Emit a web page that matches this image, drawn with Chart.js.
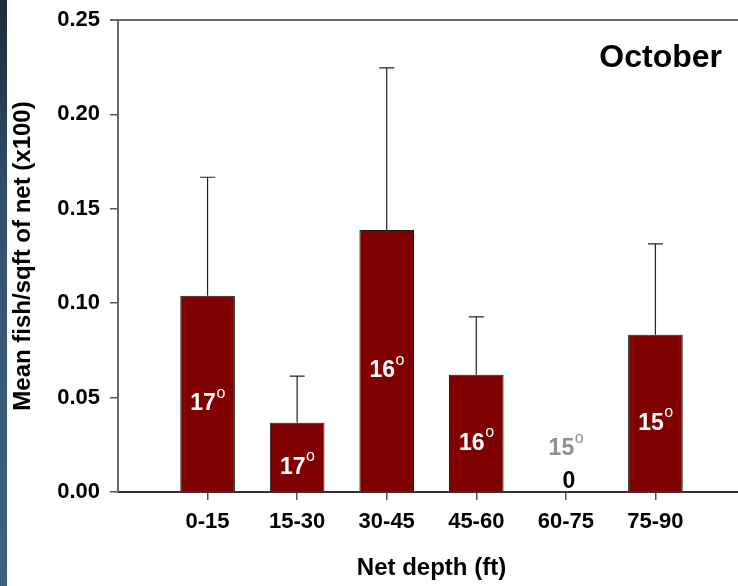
<!DOCTYPE html>
<html>
<head>
<meta charset="utf-8">
<script src="https://cdn.jsdelivr.net/npm/chart.js@4.4.1/dist/chart.umd.min.js"></script>
<style>
    html, body { margin: 0; padding: 0; background: #fff; overflow: hidden; }
    #wrap { position: relative; width: 738px; height: 586px; overflow: hidden; }
    #strip {
        position: absolute; left: 0; top: 0; width: 7px; height: 586px;
        background: linear-gradient(to bottom, #1d2b39 0%, #33516d 35%, #3e6282 100%);
    }
    canvas { position: absolute; left: 0; top: 0; }
</style>
</head>
<body>
<div id="wrap">
    <canvas id="octChart" width="745" height="586"></canvas>
    <div id="strip"></div>
</div>
<script>
// Net depth categories and October catch values
const depths = ['0-15', '15-30', '30-45', '45-60', '60-75', '75-90'];
const meanFish = [0.104, 0.0367, 0.1388, 0.0621, 0, 0.0833];
const errorTop = [0.1667, 0.0614, 0.2246, 0.0928, 0, 0.1314];
const temps = [17, 17, 16, 16, 15, 15];
const yTicks = [0, 0.05, 0.10, 0.15, 0.20, 0.25];

const FONT = '"Liberation Sans", Arial, sans-serif';

// draws "17" + small raised "o", centred on x, cap-centre at y
function drawTemp(ctx, text, x, y, color) {
    ctx.save();
    ctx.fillStyle = color;
    ctx.textBaseline = 'alphabetic';
    ctx.textAlign = 'left';
    ctx.font = 'bold 23px ' + FONT;
    const w1 = ctx.measureText(text).width;
    ctx.font = '16px ' + FONT;
    const w2 = ctx.measureText('o').width;
    const start = x - (w1 + w2) / 2;
    const base = y + 8.2;
    ctx.font = 'bold 23px ' + FONT;
    ctx.fillText(text, start, base);
    ctx.font = '16px ' + FONT;
    ctx.fillText('o', start + w1 + 0.5, y - 4.2);
    ctx.restore();
}

const extras = {
    id: 'extras',
    afterDatasetsDraw(chart) {
        const ctx = chart.ctx;
        const area = chart.chartArea;
        const x = chart.scales.x;
        const y = chart.scales.y;

        // top frame line
        ctx.save();
        ctx.strokeStyle = '#666';
        ctx.lineWidth = 2;
        ctx.beginPath();
        ctx.moveTo(area.left - 8, area.top);
        ctx.lineTo(area.right, area.top);
        ctx.stroke();

        // upper error bars
        ctx.strokeStyle = '#222';
        ctx.lineWidth = 1.2;
        meanFish.forEach((v, i) => {
            if (errorTop[i] <= v) return;
            const px = x.getPixelForValue(i + 1);
            const y0 = y.getPixelForValue(v);
            const y1 = y.getPixelForValue(errorTop[i]);
            ctx.beginPath();
            ctx.moveTo(px, y0);
            ctx.lineTo(px, y1);
            ctx.moveTo(px - 7.5, y1);
            ctx.lineTo(px + 7.5, y1);
            ctx.stroke();
        });
        ctx.restore();

        // temperature labels
        meanFish.forEach((v, i) => {
            const px = x.getPixelForValue(i + 1);
            const base = y.getPixelForValue(0);
            if (v > 0) {
                const mid = (y.getPixelForValue(v) + base) / 2;
                drawTemp(ctx, String(temps[i]), px, mid + 8, '#fff');
            } else {
                drawTemp(ctx, String(temps[i]), px, base - 45, '#909090');
                ctx.save();
                ctx.fillStyle = '#000';
                ctx.font = 'bold 23px ' + FONT;
                ctx.textAlign = 'center';
                ctx.textBaseline = 'alphabetic';
                ctx.fillText(String(v), px + 3, base - 12 + 8.2);
                ctx.restore();
            }
        });

        // month label
        ctx.save();
        ctx.fillStyle = '#000';
        ctx.font = 'bold 32px ' + FONT;
        ctx.textAlign = 'right';
        ctx.textBaseline = 'alphabetic';
        ctx.fillText('October', 722, area.top + 47);
        ctx.restore();
    }
};

new Chart(document.getElementById('octChart'), {
    type: 'bar',
    data: {
        datasets: [{
            data: meanFish.map((v, i) => ({ x: i + 1, y: v })),
            backgroundColor: '#800000',
            borderColor: '#1a1a1a',
            borderWidth: 1,
            borderSkipped: 'bottom',
            barPercentage: 0.61,
            categoryPercentage: 1.0
        }]
    },
    options: {
        responsive: false,
        animation: false,
        layout: { padding: { top: 20, left: 0, right: 0, bottom: 0 } },
        plugins: { legend: { display: false }, tooltip: { enabled: false } },
        scales: {
            x: {
                type: 'linear',
                min: 0,
                max: 7,
                offset: false,
                afterBuildTicks(scale) {
                    scale.ticks = depths.map((d, i) => ({ value: i + 1 }));
                },
                afterFit(scale) { scale.height = 94; },
                ticks: {
                    color: '#000',
                    font: { family: FONT, size: 22, weight: 'bold' },
                    padding: 9,
                    maxRotation: 0,
                    callback: (v) => depths[v - 1]
                },
                grid: { drawOnChartArea: false, offset: false, tickLength: 8, color: '#555', lineWidth: 1.5 },
                border: { color: '#333', width: 2 },
                title: {
                    display: true,
                    text: 'Net depth (ft)',
                    color: '#000',
                    font: { family: FONT, size: 24, weight: 'bold' },
                    padding: { top: 0, bottom: 3 }
                }
            },
            y: {
                min: 0,
                max: 0.25,
                afterBuildTicks(scale) {
                    scale.ticks = yTicks.map(v => ({ value: v }));
                },
                afterFit(scale) {
                    scale.width = 118;
                    scale.paddingTop = 0;
                    scale.paddingBottom = 0;
                },
                ticks: {
                    color: '#000',
                    font: { family: FONT, size: 22, weight: 'bold' },
                    padding: 10,
                    callback: (v) => v.toFixed(2)
                },
                grid: { drawOnChartArea: false, tickLength: 8, color: '#555', lineWidth: 1.5 },
                border: { color: '#666', width: 2 },
                title: {
                    display: true,
                    text: 'Mean fish/sqft of net (x100)',
                    color: '#000',
                    font: { family: FONT, size: 24, weight: 'bold' },
                    padding: { top: 9, bottom: 0 }
                }
            }
        }
    },
    plugins: [extras]
});
</script>
</body>
</html>
